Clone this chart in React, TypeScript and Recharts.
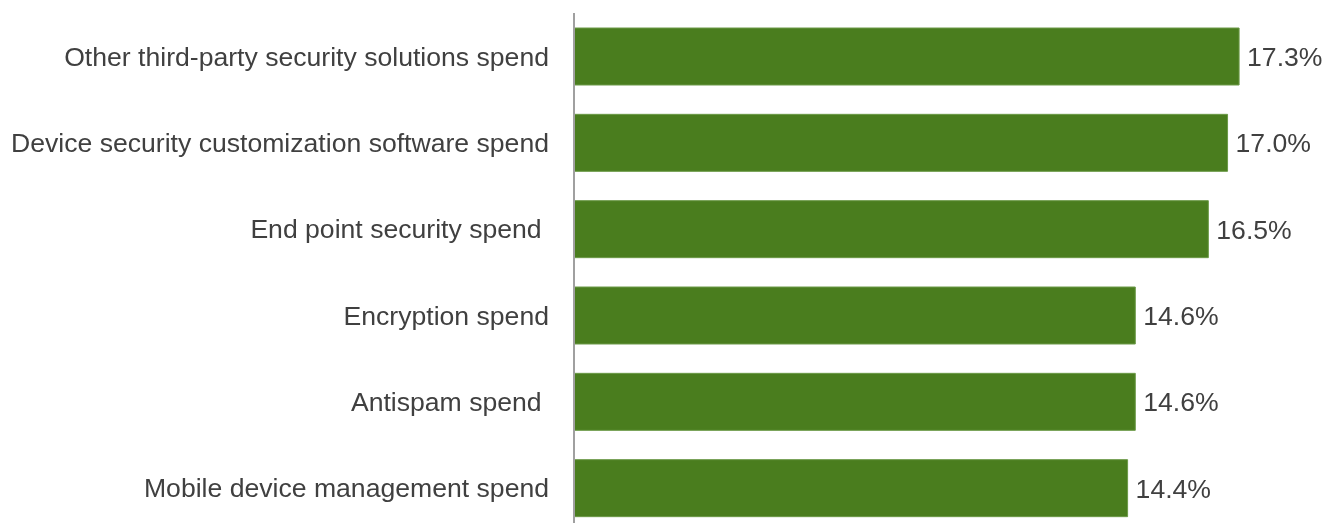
import React from 'react';
import { BarChart, Bar, XAxis, YAxis, LabelList } from 'recharts';

const categories = [
  'Other third-party security solutions spend',
  'Device security customization software spend',
  'End point security spend\u00A0',
  'Encryption spend',
  'Antispam spend\u00A0',
  'Mobile device management spend',
];

const shares = [17.3, 17.0, 16.5, 14.6, 14.6, 14.4];

const data = categories.map((name, i) => ({ name, share: shares[i] }));

const TEXT = '#404040';
const FONT = '"Liberation Sans", Arial, sans-serif';
const SIZE = 26.6;

const CategoryTick = (props: any) => {
  const { x, y, payload } = props;
  return (
    <text
      x={x}
      y={y}
      dy="0.355em"
      textAnchor="end"
      fill={TEXT}
      fontSize={SIZE}
      fontFamily={FONT}
      style={{ whiteSpace: 'pre' }}
    >
      {payload.value}
    </text>
  );
};

export default function App() {
  // fixed so the overflowing axis line is clipped by the window, no scrollbar
  return (
    <div style={{ position: 'fixed', top: 8, left: 8, width: 1320, height: 515, overflow: 'hidden' }}>
      <BarChart
        width={1320}
        height={528}
        data={data}
        layout="vertical"
        margin={{ top: 5, right: 62, bottom: 5, left: 0 }}
      >
        <XAxis type="number" domain={[0, 18]} hide />
        <YAxis
          type="category"
          dataKey="name"
          width={566}
          tickLine={false}
          tickSize={0}
          tickMargin={25}
          axisLine={{ stroke: '#a0a0a0', strokeWidth: 2 }}
          tick={<CategoryTick />}
          interval={0}
        />
        <Bar dataKey="share" fill="#4a7d1e" stroke="#6c9a48" strokeWidth={1} barSize={57} isAnimationActive={false}>
          <LabelList
            dataKey="share"
            position="right"
            offset={8}
            fill={TEXT}
            fontSize={SIZE}
            fontFamily={FONT}
            formatter={(v: any) => `${Number(v).toFixed(1)}%`}
          />
        </Bar>
      </BarChart>
    </div>
  );
}
